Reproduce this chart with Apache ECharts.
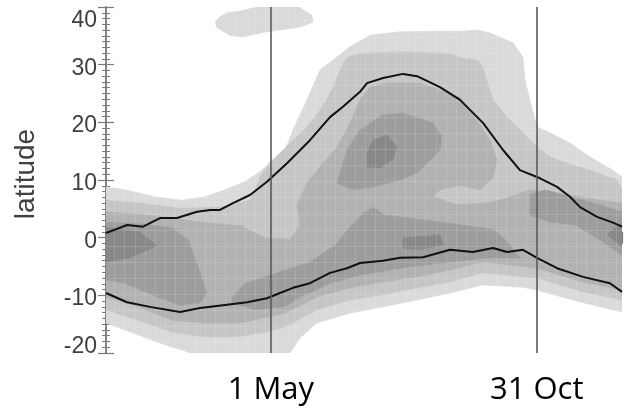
<!DOCTYPE html>
<html><head><meta charset="utf-8">
<script src="https://cdn.jsdelivr.net/npm/echarts@6/dist/echarts.min.js"></script>
<style>html,body{margin:0;padding:0;background:#fff}#c{width:624px;height:410px}</style>
</head><body><div id="c"></div>
<script>
// x: day along the annual axis (0..360, one tick each 30 days); y: latitude in degrees
const yTicks = [-20, -10, 0, 10, 20, 30, 40];
const markDays = [115.0, 300.5];
const markLabels = ['1 May', '31 Oct'];

// contour regions [day, latitude], lightest level first
const level1Main = [[0,8.8],[13.3,8.3],[34.2,7.1],[53.0,6.5],[69.1,7.1],[83.0,8.3],[97.0,9.7],[108.8,11.7],[115.8,13.5],[124.9,15.2],[130.5,18.7],[140.2,23.9],[149.3,29.1],[158.4,30.8],[170.2,33.1],[184.2,35.1],[205.1,35.7],[228.1,35.8],[247.0,35.8],[258.8,36.0],[267.9,35.5],[284.0,33.8],[290.9,31.3],[292.3,27.3],[295.8,23.9],[300.7,19.2],[309.8,18.2],[323.7,16.4],[337.7,14.0],[353.7,11.7],[360,10.5],
  [360,-12.9],[332.8,-11.3],[300.7,-9.1],[290.9,-8.6],[263.0,-8.2],[240.0,-9.6],[217.0,-10.8],[193.3,-12.0],[170.2,-13.1],[147.2,-14.8],[135.3,-17.4],[128.4,-20],[58.6,-20],[53.7,-19.5],[46.0,-19.0],[25.8,-17.2],[0,-14.8]];
const level1Top = [[76.0,37.4],[79.5,38.3],[84.4,39.0],[93.5,39.3],[105.3,40],[135.3,40],[137.4,39.5],[143.7,38.6],[144.4,37.4],[135.3,36.5],[112.3,35.7],[95.6,34.8],[86.5,35.1],[77.4,36.4]];
const level2Main = [[0,6.5],[23.7,6.0],[51.6,5.1],[79.5,5.3],[100.5,6.5],[108.8,11.2],[121.4,14.7],[130.5,16.9],[140.2,19.2],[149.3,22.1],[157.7,25.6],[163.3,29.1],[168.1,31.2],[177.2,32.0],[205.1,32.2],[240.0,32.0],[247.0,31.2],[258.8,30.8],[263.0,29.6],[265.8,27.3],[270.0,23.9],[279.8,20.9],[290.9,18.2],[300.7,15.7],[309.8,14.0],[321.6,12.9],[337.7,11.7],[356.5,10.0],[360,8.3],
  [360,-10.8],[332.8,-9.4],[300.7,-7.0],[263.0,-6.1],[240.0,-7.7],[217.0,-8.7],[193.3,-9.9],[170.2,-10.8],[147.2,-12.5],[124.9,-15.5],[110.9,-16.4],[92.1,-17.2],[69.1,-17.2],[46.0,-16.4],[22.3,-14.3],[0,-12.5]];
const level3Main = [[0,4.5],[30.7,3.9],[65.6,2.7],[93.5,2.1],[110.9,0.0],[128.4,-0.3],[135.3,2.2],[133.3,5.7],[140.2,9.5],[149.3,12.3],[161.2,15.7],[170.2,19.9],[177.2,23.9],[184.2,26.1],[196.0,26.8],[219.1,26.8],[247.0,24.4],[258.8,20.4],[267.9,16.9],[272.8,13.5],[270.0,10.3],[260.9,8.3],[247.0,9.1],[233.0,8.3],[228.1,7.1],[244.9,5.7],[263.0,6.0],[274.9,6.5],[295.8,8.3],[323.7,7.4],[344.7,6.5],[360,6.0],
  [360,-9.1],[332.8,-7.7],[300.7,-5.3],[263.0,-4.2],[240.0,-5.6],[217.0,-6.8],[193.3,-7.7],[170.2,-8.7],[147.2,-10.3],[124.9,-13.1],[110.9,-13.9],[92.1,-14.8],[69.1,-14.8],[46.0,-14.3],[22.3,-12.0],[0,-10.3]];
const level4West = [[0,2.7],[23.7,2.4],[46.0,1.7],[57.2,-0.3],[64.2,-5.1],[70.5,-9.6],[65.6,-11.3],[51.6,-11.7],[34.2,-10.1],[13.3,-7.9],[0,-7.3]];
const level4Core = [[161.2,9.5],[168.1,15.2],[177.2,18.7],[193.3,21.3],[207.2,21.6],[228.1,19.9],[234.4,17.5],[233.0,15.2],[217.0,11.2],[205.1,10.0],[186.3,8.8],[172.3,8.3]];
const level4Band = [[87.9,-10.3],[97.0,-7.9],[110.9,-6.8],[124.9,-5.6],[142.3,-4.2],[159.8,-1.3],[170.2,1.9],[180.7,4.5],[186.3,5.3],[194.6,3.9],[205.1,3.6],[240.0,2.5],[270.0,1.4],[278.4,-0.3],[288.8,-3.5],[267.9,-3.5],[240.0,-4.2],[205.1,-5.3],[177.2,-6.5],[156.3,-7.9],[135.3,-10.3],[124.9,-12.0],[104.0,-12.5],[87.9,-11.3]];
const level4East = [[295.8,7.4],[306.3,8.3],[327.2,6.9],[344.7,5.7],[360,4.5],[360,-3.0],[344.7,-0.4],[327.2,2.2],[309.8,2.7],[295.8,3.9]];
const level5West = [[0,1.7],[23.7,1.0],[35.6,-1.4],[16.7,-3.5],[0,-4.2]];
const level5Core = [[182.1,14.7],[186.3,16.9],[196.0,17.8],[203.0,15.7],[200.2,13.5],[191.2,12.1],[182.1,12.3]];
const level5Band = [[207.2,0.0],[226.0,0.3],[233.0,0.6],[235.1,-1.2],[219.1,-2.1],[207.2,-1.8]];
const level5East = [[360,2.6],[349.5,0.6],[360,-1.6]];

// the two black boundary curves [day, latitude]
const upperLine = [[0,0.8],[6.3,1.4],[14.7,2.2],[25.8,1.9],[37.7,3.4],[49.5,3.4],[63.5,4.5],[72.6,4.8],[79.5,4.8],[88.6,6.0],[100.5,7.4],[112.3,9.7],[126.3,12.9],[142.3,16.9],[156.3,20.9],[165.3,22.7],[177.2,25.3],[182.1,26.8],[193.3,27.7],[207.2,28.4],[217.0,28.0],[233.0,26.1],[247.0,23.9],[263.0,19.9],[277.0,15.2],[288.8,11.7],[302.8,10.3],[314.7,8.8],[323.7,7.1],[330.7,5.3],[342.6,3.6],[353.7,2.6],[360,1.9]];
const lowerLine = [[0,-9.6],[14.7,-11.2],[30.7,-12.0],[51.6,-12.9],[65.6,-12.2],[81.6,-11.7],[98.4,-11.2],[112.3,-10.5],[121.4,-9.6],[130.5,-8.7],[142.3,-7.9],[156.3,-6.1],[168.1,-5.3],[177.2,-4.4],[193.3,-4.0],[205.1,-3.5],[221.2,-3.4],[240.0,-2.1],[256.0,-2.5],[270.0,-1.8],[279.8,-2.5],[290.9,-2.1],[300.7,-3.5],[314.7,-5.3],[332.8,-6.8],[351.6,-7.9],[360,-9.4]];

// faint sampling grid of the underlying data (Gaussian latitudes, weekly steps)
const gridLats = [-18.14,-15.35,-12.56,-9.77,-6.98,-4.19,-1.40,1.40,4.19,6.98,9.77,12.56,15.35,18.14,20.93,23.72,26.51,29.30,32.09,34.88,37.67];
const gridDays = [];
for (let k = 0; k < 52; k++) gridDays.push(5.9 + 7 * k);

const shades = ['#dadada', '#c6c6c6', '#b2b2b2', '#9d9d9d', '#888888'];
const regions = [
  {level: 1, pts: level1Main}, {level: 1, pts: level1Top},
  {level: 2, pts: level2Main},
  {level: 3, pts: level3Main},
  {level: 4, pts: level4West}, {level: 4, pts: level4Core}, {level: 4, pts: level4Band}, {level: 4, pts: level4East},
  {level: 5, pts: level5West}, {level: 5, pts: level5Core}, {level: 5, pts: level5Band}, {level: 5, pts: level5East}
];

const axisGray = '#7a7a7a';
const labelFont = 'Liberation Sans';
const frameAxis = (pos) => ({
  type: 'value', min: 0, max: 360, interval: 30, position: pos,
  axisLine: {show: true, lineStyle: {color: axisGray, width: 1.5}},
  axisTick: {show: true, inside: true, length: 6, lineStyle: {color: axisGray, width: 1.2}},
  axisLabel: {show: false}, splitLine: {show: false}
});
const latAxis = (pos, withLabels) => ({
  type: 'value', min: yTicks[0], max: yTicks[yTicks.length - 1], interval: 10, position: pos,
  name: withLabels ? 'latitude' : '', nameLocation: 'middle', nameGap: 66, nameRotate: 90,
  nameTextStyle: {fontFamily: labelFont, fontSize: 28, color: '#404040', padding: [0, 0, 0, 12]},
  axisLine: {show: true, lineStyle: {color: axisGray, width: 1.5}},
  axisTick: {show: true, inside: true, length: 8, lineStyle: {color: axisGray, width: 1.2}},
  minorTick: {show: true, splitNumber: 10, length: 4, lineStyle: {color: axisGray, width: 1}},
  splitLine: {show: false},
  axisLabel: {
    show: withLabels, margin: 9, fontFamily: labelFont, fontSize: 23, color: '#404040',
    formatter: v => v === yTicks[yTicks.length - 1] ? '{t|' + v + '}' : (v === yTicks[0] ? '{b|' + v + '}' : '{n|' + v + '}'),
    rich: {n: {padding: [7, 0, 0, 0]}, t: {padding: [27, 0, 0, 0]}, b: {padding: [0, 0, 12, 0]}}
  }
});

const gridLineStyle = {stroke: 'rgba(255,255,255,0.15)', lineWidth: 1};
const chart = echarts.init(document.getElementById('c'), null, {renderer: 'canvas'});
chart.setOption({
  animation: false,
  backgroundColor: '#ffffff',
  grid: {left: 106, right: 2, top: 7, bottom: 57, containLabel: false, outerBoundsMode: 'none'},
  xAxis: [
    frameAxis('bottom'),
    frameAxis('top'),
    {type: 'value', min: 0, max: 360, position: 'bottom',
     axisLine: {show: false}, axisTick: {show: false}, splitLine: {show: false},
     axisLabel: {show: true, customValues: markDays, margin: 22, fontFamily: 'Open Sans', fontSize: 31, color: '#000',
       formatter: v => markLabels[markDays.indexOf(v)]}}
  ],
  yAxis: [latAxis('left', true), latAxis('right', false)],
  series: [
    {type: 'custom', clip: true, z: 1, xAxisIndex: 0, yAxisIndex: 0,
     data: regions.map(r => r.pts[0]),
     renderItem: (params, api) => {
       const r = regions[params.dataIndex];
       const c = shades[r.level - 1];
       return {type: 'polygon', shape: {points: r.pts.map(p => api.coord(p))},
               style: {fill: c, stroke: c, lineWidth: 0.6}};
     }},
    {type: 'custom', clip: true, z: 2, silent: true, xAxisIndex: 0, yAxisIndex: 0,
     data: gridLats.map(l => [0, l]),
     renderItem: (params, api) => {
       const a = api.coord([0, api.value(1)]), b = api.coord([360, api.value(1)]);
       return {type: 'line', shape: {x1: a[0], y1: Math.round(a[1]) + 0.5, x2: b[0], y2: Math.round(b[1]) + 0.5}, style: gridLineStyle};
     }},
    {type: 'custom', clip: true, z: 2, silent: true, xAxisIndex: 0, yAxisIndex: 0,
     data: gridDays.map(d => [d, 0]),
     renderItem: (params, api) => {
       const a = api.coord([api.value(0), -20]), b = api.coord([api.value(0), 40]);
       return {type: 'line', shape: {x1: Math.round(a[0]) + 0.5, y1: a[1], x2: Math.round(b[0]) + 0.5, y2: b[1]}, style: gridLineStyle};
     }},
    {type: 'line', xAxisIndex: 0, yAxisIndex: 0, z: 4, data: upperLine, symbol: 'none', smooth: false,
     lineStyle: {color: '#111', width: 2},
     markLine: {silent: true, symbol: ['none', 'none'], label: {show: false},
       lineStyle: {color: '#5a5a5a', width: 1.6, type: 'solid'},
       data: markDays.map(d => ({xAxis: d}))}},
    {type: 'line', xAxisIndex: 0, yAxisIndex: 0, z: 4, data: lowerLine, symbol: 'none', smooth: false,
     lineStyle: {color: '#111', width: 2}}
  ]
});
</script></body></html>
